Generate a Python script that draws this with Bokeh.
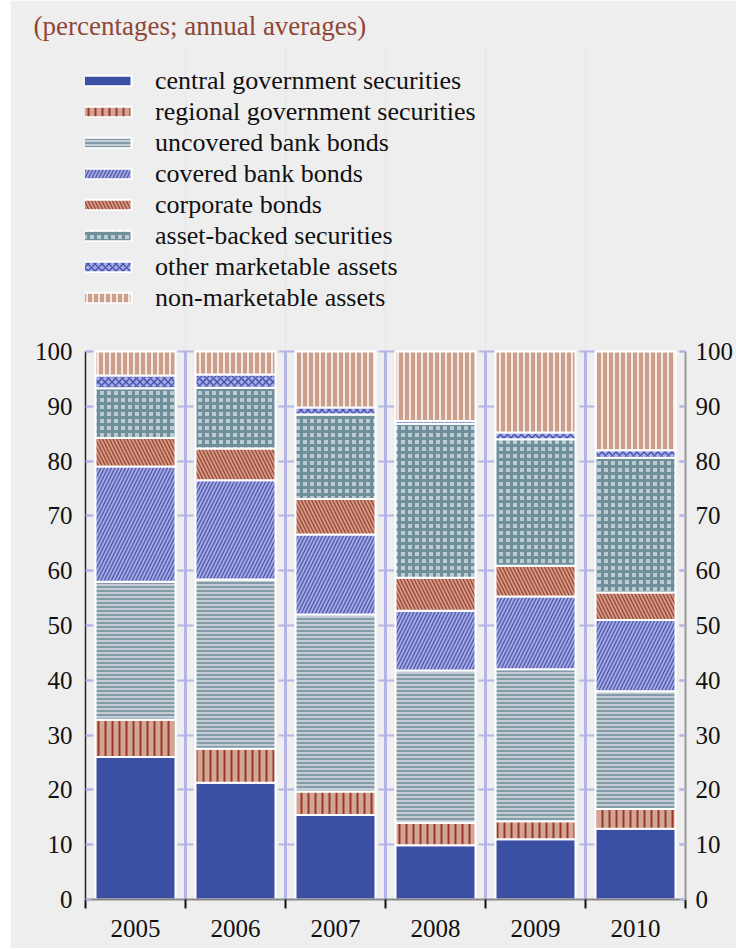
import numpy as np
from bokeh.plotting import figure
from bokeh.models import (ColumnDataSource, Range1d, FixedTicker, LinearAxis, Legend,
                          LegendItem, Title, Grid)
from bokeh.embed import file_html
from bokeh.resources import INLINE

years = ["2005", "2006", "2007", "2008", "2009", "2010"]
central = [26.0, 21.3, 15.4, 9.9, 11.0, 12.9]
regional = [6.8, 6.2, 4.3, 4.1, 3.3, 3.6]
uncovered = [25.2, 30.9, 32.3, 27.8, 27.7, 21.5]
covered = [21.0, 18.1, 14.6, 10.9, 13.3, 13.0]
corporate = [5.2, 5.8, 6.5, 6.0, 5.6, 5.0]
asset_backed = [9.1, 11.1, 15.4, 28.1, 23.1, 24.6]
other = [2.3, 2.4, 1.3, 0.5, 1.2, 1.4]
non_marketable = [4.4, 4.2, 10.2, 12.7, 14.8, 18.0]
y_ticks = list(range(0, 101, 10))

names = ["central government securities", "regional government securities",
         "uncovered bank bonds", "covered bank bonds", "corporate bonds",
         "asset-backed securities", "other marketable assets", "non-marketable assets"]
keys = ["central", "regional", "uncovered", "covered", "corporate",
        "asset_backed", "other", "non_marketable"]

x = np.arange(len(years)) + 0.5
src = ColumnDataSource(dict(x=x, central=central, regional=regional, uncovered=uncovered,
                            covered=covered, corporate=corporate, asset_backed=asset_backed,
                            other=other, non_marketable=non_marketable))

BG = "#eeeeee"
LAV = "#b4b4e6"
SERIF = "Liberation Serif"

W, H = 726, 948
TOP, BOTTOM, LEFT, RIGHT = 45, 49, 75, 49
FRAME_W = W - LEFT - RIGHT
FRAME_H = H - TOP - BOTTOM          # whole frame (legend lives in its upper part)
BAR_H = 548                         # pixels used by the 0..100 scale
y_end = 100 * FRAME_H / BAR_H

# dash pattern for the small lavender crosses on every category boundary
n = len(years)
edges = [0, 8]
for k in range(1, n):
    c = k * FRAME_W / n
    edges += [round(c - 8), round(c + 8)]
edges += [FRAME_W - 8, FRAME_W]
dash = " ".join(str(b - a) for a, b in zip(edges[:-1], edges[1:]))

p = figure(width=W, height=H, x_range=Range1d(0, n), y_range=Range1d(0, y_end),
           output_backend="svg", toolbar_location=None,
           x_axis_location=None, y_axis_location=None,
           min_border_left=LEFT, min_border_right=RIGHT, min_border_top=TOP,
           min_border_bottom=BOTTOM, margin=(0, 0, 0, 10),
           background_fill_color=BG, border_fill_color=BG, outline_line_color=None)

p.add_layout(Grid(dimension=0, ticker=FixedTicker(ticks=list(range(1, n))),
                  cross_bounds=(0, 100), grid_line_color=LAV, grid_line_width=3))
p.add_layout(Grid(dimension=1, ticker=FixedTicker(ticks=y_ticks),
                  grid_line_color=LAV, grid_line_width=2, grid_line_dash=dash))

fills = ["#3b4fa4", "#d2a694", "#c3cdd3", "#a2a8df", "#cc9a86", "#bccad1", "#a5aae0", "#cc9f8a"]
patterns = [" ", "|", "-", "/", "\\", "+", "x", "|"]
hcolors = ["#3b4fa4", "#9b3628", "#6b8b99", "#4a55ad", "#a03e2e", "#6f8f9b", "#3f4fb0", "#ffffff"]
hweights = [1, 2, 1.5, 1.2, 1.2, 3, 1.3, 1.5]
hscales = [6, 7, 4, 7, 7, 7, 7, 6]

rs = p.vbar_stack(keys, x="x", width=0.8, source=src, fill_color=fills,
                  line_color="white", line_width=2, hatch_pattern=patterns,
                  hatch_color=hcolors, hatch_weight=hweights, hatch_scale=hscales)

legend = Legend(items=[LegendItem(label=nm, renderers=[r]) for nm, r in zip(names, rs)],
                location=(-8, 586), padding=0, margin=0, border_line_color=None,
                background_fill_alpha=0, glyph_width=60, glyph_height=13,
                label_standoff=18, label_height=31, spacing=0,
                label_text_font=SERIF, label_text_font_size="26px",
                label_text_color="#111111")
p.add_layout(legend)

p.add_layout(Title(text="(percentages; annual averages)", align="left", offset=-52,
                   standoff=10, text_font=SERIF, text_font_size="27px",
                   text_font_style="normal", text_color="#8e4636"), "above")

def yaxis(line_color, line_width, standoff):
    return LinearAxis(ticker=FixedTicker(ticks=y_ticks), bounds=(0, 100),
                      major_tick_in=6, major_tick_out=0,
                      minor_tick_line_color=None, major_tick_line_color=LAV,
                      major_tick_line_width=2, axis_line_color=line_color,
                      axis_line_width=line_width, major_label_text_font=SERIF,
                      major_label_text_font_size="25px", major_label_text_color="#111111",
                      major_label_standoff=standoff)

p.add_layout(yaxis("#222222", 1.5, 13), "left")
p.add_layout(yaxis("#999999", 2, 10), "right")

xaxis = LinearAxis(ticker=FixedTicker(ticks=list(x), minor_ticks=list(range(0, n + 1))),
                   major_label_overrides={float(xi): yr for xi, yr in zip(x, years)},
                   major_tick_in=0, major_tick_out=0, minor_tick_in=0, minor_tick_out=9,
                   minor_tick_line_color="#111111", minor_tick_line_width=2,
                   axis_line_color="#888888", axis_line_width=2,
                   major_label_text_font=SERIF, major_label_text_font_size="25px",
                   major_label_text_color="#111111", major_label_standoff=11)
p.add_layout(xaxis, "below")

open("out.html", "w").write(file_html(p, INLINE))
